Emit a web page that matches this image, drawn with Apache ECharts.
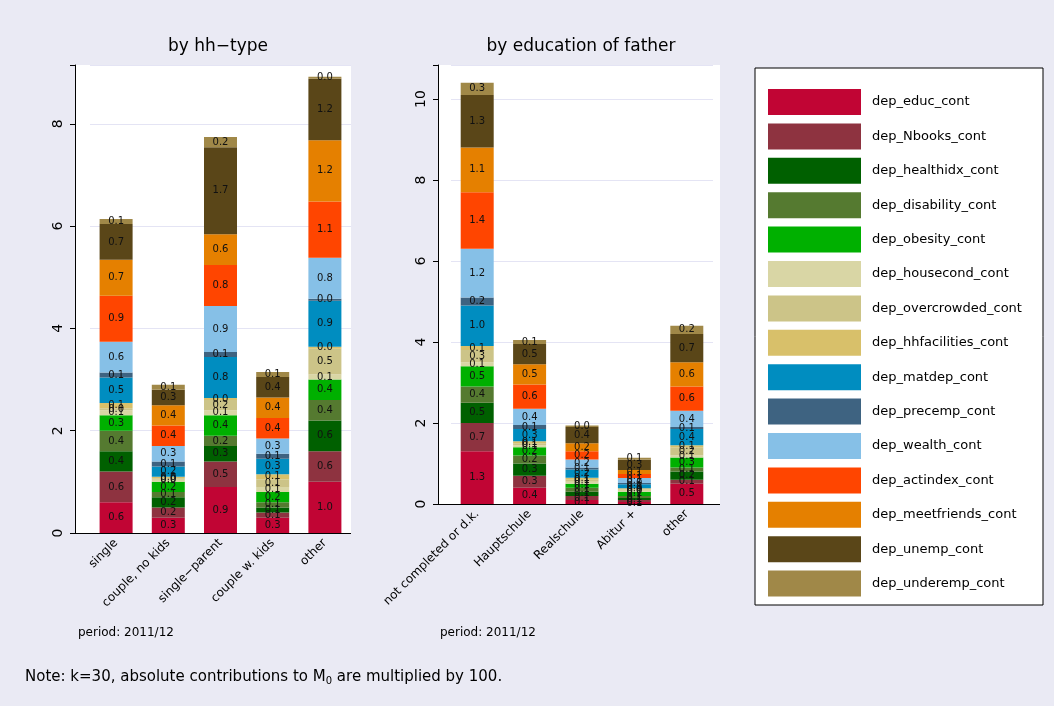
<!DOCTYPE html>
<html><head><meta charset="utf-8">
<script src="https://cdn.jsdelivr.net/npm/echarts@6/dist/echarts.min.js"></script>
<style>html,body{margin:0;background:#eaeaf4}#c{width:1054px;height:706px}</style>
</head><body><div id="c"></div>
<script>
const seriesNames = ['dep_educ_cont','dep_Nbooks_cont','dep_healthidx_cont','dep_disability_cont','dep_obesity_cont','dep_housecond_cont','dep_overcrowded_cont','dep_hhfacilities_cont','dep_matdep_cont','dep_precemp_cont','dep_wealth_cont','dep_actindex_cont','dep_meetfriends_cont','dep_unemp_cont','dep_underemp_cont'];
const colors = ['#c10534','#8e3340','#006000','#557a30','#00b000','#d9d6a5','#ccc488','#d8c06a','#008dc0','#3e6381','#86c0e7','#ff4500','#e58000','#5a4618','#a08848'];
const hhCats = ['single','couple, no kids','single\u2212parent','couple w. kids','other'];
const eduCats = ['not completed or d.k.','Hauptschule','Realschule','Abitur +','other'];
// rows: series, columns: categories
const hhVals = [
  [0.6,0.3,0.9,0.3,1.0],
  [0.6,0.2,0.5,0.1,0.6],
  [0.4,0.2,0.3,0.1,0.6],
  [0.4,0.1,0.2,0.1,0.4],
  [0.3,0.2,0.4,0.2,0.4],
  [0.1,0.04,0.1,0.1,0.1],
  [0.04,0.03,0.2,0.15,0.5],
  [0.1,0.03,0.04,0.1,0.04],
  [0.5,0.2,0.8,0.3,0.9],
  [0.1,0.1,0.1,0.1,0.04],
  [0.6,0.3,0.9,0.3,0.8],
  [0.9,0.4,0.8,0.4,1.1],
  [0.7,0.4,0.6,0.4,1.2],
  [0.7,0.3,1.7,0.4,1.2],
  [0.1,0.1,0.2,0.1,0.04]
];
const eduVals = [
  [1.3,0.4,0.1,0.05,0.5],
  [0.7,0.3,0.1,0.05,0.1],
  [0.5,0.3,0.1,0.05,0.2],
  [0.4,0.2,0.1,0.05,0.1],
  [0.5,0.2,0.1,0.1,0.25],
  [0.1,0.05,0.05,0.03,0.05],
  [0.3,0.05,0.05,0.03,0.2],
  [0.1,0.05,0.05,0.03,0.05],
  [1.0,0.3,0.2,0.1,0.4],
  [0.2,0.1,0.05,0.03,0.05],
  [1.2,0.4,0.2,0.12,0.4],
  [1.4,0.6,0.2,0.1,0.6],
  [1.1,0.5,0.2,0.1,0.6],
  [1.3,0.5,0.4,0.25,0.7],
  [0.3,0.1,0.04,0.05,0.2]
];
const chart = echarts.init(document.getElementById('c'));
const lbl = {show:true, position:'inside', fontSize:10, color:'#111', fontFamily:'DejaVu Sans', formatter:p=>p.value.toFixed(1)};
const series = [];
seriesNames.forEach((n,i)=>{
  series.push({name:n,type:'bar',stack:'a',xAxisIndex:0,yAxisIndex:0,data:hhVals[i],itemStyle:{color:colors[i]},label:lbl,barWidth:33});
  series.push({name:n,type:'bar',stack:'b',xAxisIndex:1,yAxisIndex:1,data:eduVals[i],itemStyle:{color:colors[i]},label:lbl,barWidth:33});
});
const yAx = (max,interval,off)=>({type:'value',min:0,max:max,interval:interval,offset:off,
  axisLine:{show:true,lineStyle:{color:'#000'}},axisTick:{show:true,length:5,lineStyle:{color:'#000'}},
  axisLabel:{rotate:90,fontSize:14,color:'#000',margin:10,fontFamily:'DejaVu Sans',formatter:v=>v===max?'':v},
  splitLine:{lineStyle:{color:'#e4e4f4'}}});
const xAx = (cats)=>({type:'category',data:cats,axisTick:{show:false},
  axisLine:{show:false},axisLabel:{rotate:45,fontSize:12,color:'#000',fontFamily:'DejaVu Sans',interval:0,margin:8}});
chart.setOption({
  backgroundColor:'#eaeaf4',
  animation:false,
  grid:[{left:90,top:65,width:261,height:468},
        {left:451,top:65,width:262,height:439}],
  xAxis:[Object.assign(xAx(hhCats),{gridIndex:0}),Object.assign(xAx(eduCats),{gridIndex:1})],
  yAxis:[Object.assign(yAx(9.15,2,15),{gridIndex:0}),Object.assign(yAx(10.84,2,13),{gridIndex:1})],
  legend:{orient:'vertical',left:763,top:84,itemWidth:93,itemHeight:26,itemGap:8.4,
    icon:'rect',textStyle:{fontSize:13,color:'#000',fontFamily:'DejaVu Sans',padding:[0,0,0,6]},
    data:seriesNames,selectedMode:false},
  graphic:[
    {type:'rect',z:-10,silent:true,shape:{x:75,y:65,width:276,height:468},style:{fill:'#fff'}},
    {type:'rect',z:-10,silent:true,shape:{x:438,y:65,width:282,height:439},style:{fill:'#fff'}},
    {type:'line',z:100,shape:{x1:75,y1:533.5,x2:351,y2:533.5},style:{stroke:'#000',lineWidth:1}},
    {type:'line',z:100,shape:{x1:438,y1:504.5,x2:720,y2:504.5},style:{stroke:'#000',lineWidth:1}},
    {type:'rect',z:-1,shape:{x:755,y:68,width:288,height:537},style:{fill:'#fff',stroke:'#000',lineWidth:1}},
    {type:'text',style:{text:'by hh\u2212type',x:218,y:47,fill:'#000',font:'17px DejaVu Sans',align:'center',verticalAlign:'middle'}},
    {type:'text',style:{text:'by education of father',x:581,y:47,fill:'#000',font:'17px DejaVu Sans',align:'center',verticalAlign:'middle'}},
    {type:'text',style:{text:'period: 2011/12',x:78,y:633,fill:'#000',font:'12px DejaVu Sans',verticalAlign:'middle'}},
    {type:'text',style:{text:'period: 2011/12',x:440,y:633,fill:'#000',font:'12px DejaVu Sans',verticalAlign:'middle'}},
    {type:'text',style:{rich:{a:{font:'15px DejaVu Sans',fill:'#000'},s:{font:'10px DejaVu Sans',fill:'#000',verticalAlign:'bottom',padding:[8,0,0,0]}},
      text:'{a|Note: k=30, absolute contributions to M}{s|0}{a| are multiplied by 100.}',x:25,y:668}}
  ],
  series:series
});
</script></body></html>
